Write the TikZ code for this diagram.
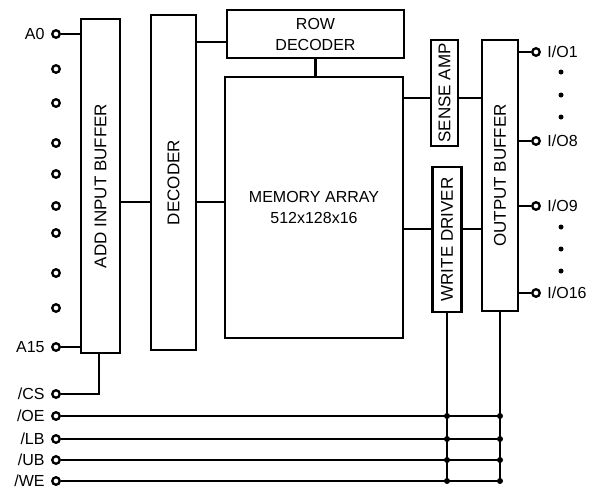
\documentclass[tikz,border=0pt]{standalone}
\usepackage{fontspec}
\setmainfont{Liberation Sans}
\definecolor{ink}{HTML}{000000}

\tikzset{
  blk/.style={draw=ink, line width=2.3pt, inner sep=0pt},
  vtext/.style={rotate=90, font=\fontsize{17}{21}\selectfont},
  term/.style={circle, draw=ink, line width=2.3pt, fill=white, inner sep=0pt, minimum size=7.5pt},
  jdot/.style={circle, fill=ink, inner sep=0pt, minimum size=6pt},
  vdot/.style={circle, fill=ink, inner sep=0pt, minimum size=5pt},
  wire/.style={draw=ink, line width=2.3pt}
}

\begin{document}
\begin{tikzpicture}[x=1pt, y=-1pt, font=\fontsize{16}{21}\selectfont,
                    label distance=3pt]
  \useasboundingbox (0,0) rectangle (592,493);

  % Blocks
  \node[blk, minimum width=39pt, minimum height=334pt,
        label={[vtext]center:ADD INPUT BUFFER}] (addbuf) at (100.5,186) {};
  \node[blk, minimum width=45pt, minimum height=335pt,
        label={[vtext]center:DECODER}] (decoder) at (173.5,182.5) {};
  \node[blk, minimum width=177pt, minimum height=48pt, align=center] (rowdec) at (315.5,34) {ROW\\DECODER};
  \node[blk, minimum width=178pt, minimum height=261pt, align=center] (memory) at (314,207.5) {MEMORY ARRAY\\512x128x16};
  \node[blk, minimum width=27pt, minimum height=106pt,
        label={[vtext]center:SENSE AMP}] (senseamp) at (444.5,93) {};
  \node[blk, minimum width=29pt, minimum height=145pt,
        label={[vtext]center:WRITE DRIVER}] (writedrv) at (447,239.5) {};
  \node[blk, minimum width=36pt, minimum height=271pt,
        label={[vtext]center:OUTPUT BUFFER}] (outbuf) at (500,175.5) {};

  % Address pins
  \node[term, label={left:A0}] (a0) at (56,34) {};
  \foreach \n/\y in {a1/69, a2/103, a3/143, a4/174, a5/206, a6/233, a7/273, a8/308}
    \node[term] (\n) at (56,\y) {};
  \node[term, label={left:A15}] (a15) at (56,347) {};
  \draw[wire] (a0) -- (a0 -| addbuf.west);
  \draw[wire] (a15) -- (a15 -| addbuf.west);

  % Chip select
  \node[term, label={left:/CS}] (cs) at (56,394) {};
  \draw[wire] (cs) -| ([xshift=-1.5pt]addbuf.south);

  % Internal buses
  \coordinate (rowln) at (0,42);
  \coordinate (addrln) at (0,202);
  \coordinate (readln) at (0,98);
  \coordinate (writeln) at (0,229);
  \draw[wire] (decoder.east |- rowln) -- (rowdec.west |- rowln);
  \draw[wire] (addbuf.east |- addrln) -- (decoder.west |- addrln);
  \draw[wire] (decoder.east |- addrln) -- (memory.west |- addrln);
  \draw[wire] (rowdec.south) -- (rowdec.south |- memory.north);
  \draw[wire] (memory.east |- readln) -- (senseamp.west |- readln);
  \draw[wire] (senseamp.east |- readln) -- (outbuf.west |- readln);
  \draw[wire] (memory.east |- writeln) -- (writedrv.west |- writeln);
  \draw[wire] (writedrv.east |- writeln) -- (outbuf.west |- writeln);

  % Data pins
  \foreach \n/\y/\t in {io1/52/1, io8/141/8, io9/206/9, io16/293/16} {
    \node[term, label={right:I/O\t}] (\n) at (536,\y) {};
    \draw[wire] (\n -| outbuf.east) -- (\n);
  }
  \foreach \y in {72, 95, 117, 227, 249, 271}
    \node[vdot] (d\y) at (561,\y) {};

  % Control pins
  \foreach \n/\y/\t in {oe/416/OE, lb/439/LB, ub/460/UB, we/481/WE}
    \node[term, label={left:/\t}] (\n) at (56,\y) {};
  \draw[wire] (writedrv.south) -- (writedrv.south |- we);
  \draw[wire] (outbuf.south) -- (outbuf.south |- we);
  \foreach \n in {oe, lb, ub, we} {
    \draw[wire] (\n) -- (\n -| outbuf.south);
    \node[jdot] (jw\n) at (\n -| writedrv.south) {};
    \node[jdot] (jo\n) at (\n -| outbuf.south) {};
  }
\end{tikzpicture}
\end{document}
